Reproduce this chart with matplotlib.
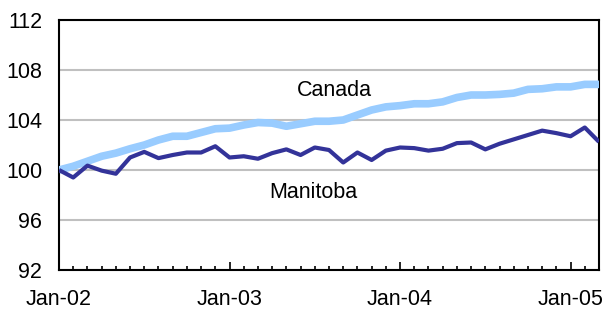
import numpy as np
import matplotlib.pyplot as plt

# monthly index, Jan-02 to Mar-05 (Jan-02 = 100)
months = np.arange(39)
canada = [100.0, 100.3, 100.7, 101.1, 101.35, 101.7, 102.0, 102.4, 102.7, 102.7,
          103.0, 103.3, 103.35, 103.6, 103.8, 103.75, 103.5, 103.7, 103.9, 103.9,
          104.0, 104.4, 104.8, 105.05, 105.15, 105.3, 105.3, 105.45, 105.8, 106.0,
          106.0, 106.05, 106.15, 106.45, 106.5, 106.65, 106.65, 106.85, 106.85]
manitoba = [100.0, 99.4, 100.35, 99.95, 99.7, 101.0, 101.45, 100.95, 101.2, 101.4,
            101.4, 101.9, 101.0, 101.1, 100.9, 101.35, 101.65, 101.2, 101.8, 101.6,
            100.6, 101.4, 100.8, 101.55, 101.8, 101.75, 101.55, 101.7, 102.15, 102.2,
            101.65, 102.1, 102.45, 102.8, 103.15, 102.95, 102.7, 103.4, 102.25]

xtick_pos = [0, 12, 24, 36]
xtick_labels = ["Jan-02", "Jan-03", "Jan-04", "Jan-05"]
yticks = [92, 96, 100, 104, 108, 112]

plt.rcParams['font.family'] = ['Liberation Sans', 'DejaVu Sans']

fig = plt.figure(figsize=(6.06, 3.11), dpi=100)
ax = fig.add_axes([59/606, 1 - 270/311, 540/606, 250/311])

ax.plot(months, canada, color='#99ccff', lw=5.5, solid_capstyle='butt',
        solid_joinstyle='round', zorder=3)
ax.plot(months, manitoba, color='#333399', lw=3, solid_capstyle='butt',
        solid_joinstyle='round', zorder=4)

ax.set_xlim(0, 38)
ax.set_ylim(92, 112)
ax.set_yticks(yticks)
ax.set_yticklabels([str(v) for v in yticks])
ax.yaxis.grid(True, color='#c0c0c0', lw=1.5)
ax.set_axisbelow(True)
ax.tick_params(axis='y', length=0, pad=12, labelsize=15.5)

ax.set_xticks(xtick_pos)
ax.set_xticklabels(xtick_labels)
ax.set_xticks(months, minor=True)
ax.tick_params(axis='x', which='major', direction='in', length=6, width=1.2, pad=14, labelsize=15.5)
ax.tick_params(axis='x', which='minor', direction='in', length=3, width=1.2)

for s in ax.spines.values():
    s.set_linewidth(1.5)
    s.set_color('black')

ax.text(19.4, 106.4, "Canada", fontsize=15.5, ha='center', va='center')
ax.text(17.9, 98.2, "Manitoba", fontsize=15.5, ha='center', va='center')

fig.savefig("out.png", dpi=100)
